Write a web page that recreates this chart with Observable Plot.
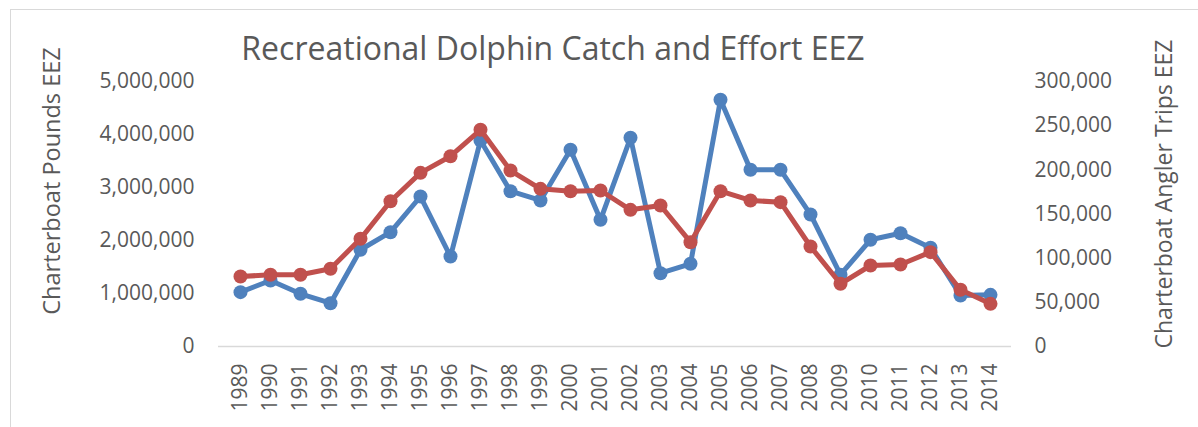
<!DOCTYPE html>
<html><head><meta charset="utf-8">
<script src="https://cdn.jsdelivr.net/npm/d3@7"></script>
<script src="https://cdn.jsdelivr.net/npm/@observablehq/plot@0.6"></script>
<style>
html,body{margin:0;padding:0;background:#fff;overflow:hidden}
#frame{position:absolute;left:10px;top:9px;width:1400px;height:700px;border:1.5px solid #d9d9d9;pointer-events:none}
</style></head><body>
<div id="chart"></div><div id="frame"></div>
<script>
const titleText = "Recreational Dolphin Catch and Effort EEZ";
const leftLabel = "Charterboat Pounds EEZ";
const rightLabel = "Charterboat Angler Trips EEZ";
const years = [1989,1990,1991,1992,1993,1994,1995,1996,1997,1998,1999,2000,2001,2002,2003,2004,2005,2006,2007,2008,2009,2010,2011,2012,2013,2014];
const pounds = [1025000,1245000,994000,817000,1825000,2157000,2830000,1698000,3887000,2930000,2755000,3711000,2391000,3938000,1383000,1560000,4655000,3334000,3334000,2491000,1355000,2013000,2138000,1862000,962000,975000];
const trips = [79200,81200,81200,88000,121900,164400,196600,215400,245300,199200,178500,175800,176600,154700,159600,118100,175800,165300,163400,113200,71000,91700,92800,106800,64200,48300];
const leftTicks = [0,1000000,2000000,3000000,4000000,5000000];
const rightTicks = [0,50000,100000,150000,200000,250000,300000];
const leftMax = 5000000, rightMax = 300000;
const ratio = leftMax / rightMax;

const blueData = years.map((y,i)=>({year:y, v:pounds[i]}));
const redData = years.map((y,i)=>({year:y, v:trips[i]*ratio}));
const fmt = d3.format(",");
const font = "'Open Sans', sans-serif";
const gray = "#595959";
const blue = "#4f81bd", red = "#c0504d";

const chart = Plot.plot({
  width: 1198, height: 427,
  marginLeft: 218, marginRight: 187, marginTop: 81, marginBottom: 81,
  style: {fontFamily: font, color: gray, background: "transparent", overflow: "visible"},
  x: {type: "point", domain: years, padding: 0.5},
  y: {domain: [0, leftMax]},
  marks: [
    Plot.ruleY([0], {stroke: "#d9d9d9", strokeWidth: 1.5}),
    Plot.axisX({tickRotate: -90, tickSize: 0, tickPadding: 17, fontSize: 21, tickFormat: d => String(d), label: null}),
    Plot.axisY(leftTicks, {anchor: "left", tickSize: 0, tickPadding: 24, fontSize: 21, tickFormat: fmt, label: null}),
    Plot.axisY(rightTicks.map(t => t*ratio), {anchor: "right", tickSize: 0, tickPadding: 23, fontSize: 21, tickFormat: d => fmt(Math.round(d/ratio)), label: null}),
    Plot.text([leftLabel], {frameAnchor: "left", dx: -166, dy: -33, rotate: -90, textAnchor: "middle", lineAnchor: "middle", fontSize: 23.5, fill: gray}),
    Plot.text([rightLabel], {frameAnchor: "right", dx: 153, dy: -20, rotate: -90, textAnchor: "middle", lineAnchor: "middle", fontSize: 23, fill: gray}),
    Plot.text([titleText], {frameAnchor: "top", dx: -62, dy: -32, textAnchor: "middle", lineAnchor: "middle", fontSize: 32, fill: gray}),
    Plot.line(blueData, {x: "year", y: "v", stroke: blue, strokeWidth: 5, strokeLinejoin: "round"}),
    Plot.dot(blueData, {x: "year", y: "v", r: 7, fill: blue, stroke: "none"}),
    Plot.line(redData, {x: "year", y: "v", stroke: red, strokeWidth: 5, strokeLinejoin: "round"}),
    Plot.dot(redData, {x: "year", y: "v", r: 7, fill: red, stroke: "none"})
  ]
});
document.getElementById("chart").appendChild(chart);
</script>
</body></html>
